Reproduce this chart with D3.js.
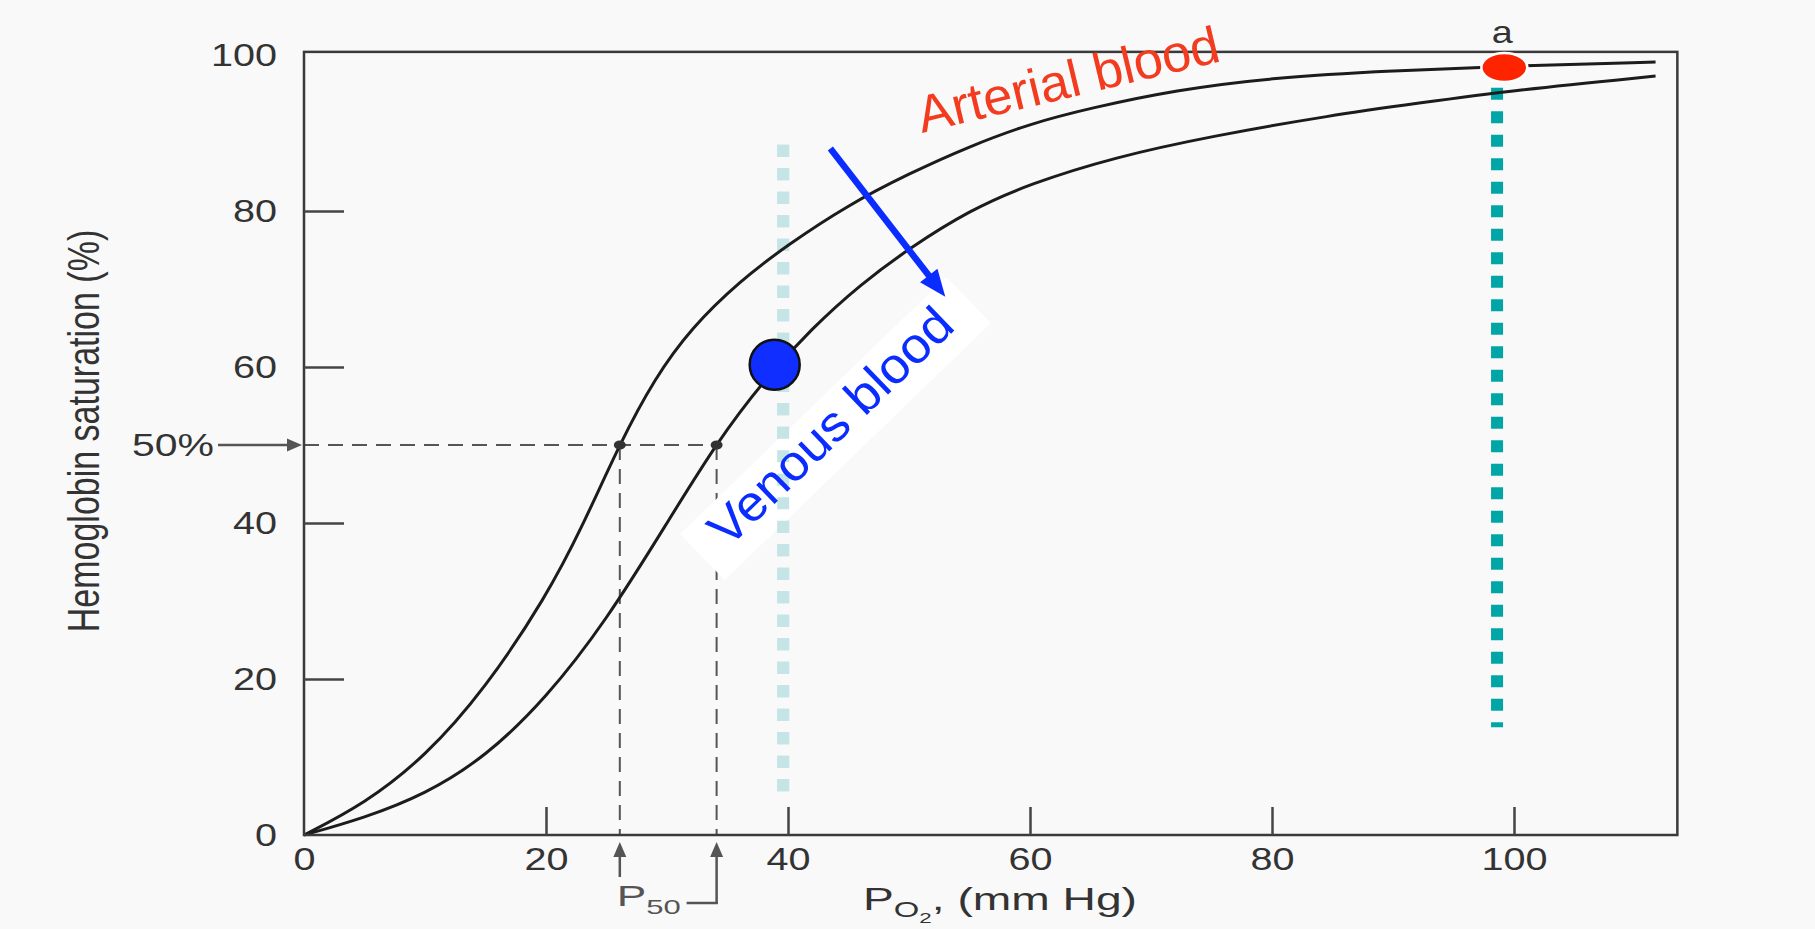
<!DOCTYPE html>
<html>
<head>
<meta charset="utf-8">
<script src="https://cdn.jsdelivr.net/npm/d3@7"></script>
<style>
  body { margin: 0; background: #f9f9f9; }
  svg { display: block; }
</style>
</head>
<body>
<svg id="chart" width="1815" height="929"></svg>
<script>
/**
Values
*/
var po2Ticks = [0, 20, 40, 60, 80, 100];
var satTicks = [0, 20, 40, 60, 80, 100];

// normal (left) dissociation curve
var normalPo2 = [0, 5, 10, 15, 20, 23, 26.1, 29, 32, 36, 40, 45, 50, 55, 60, 65, 72, 80, 90, 100, 111.7];
var normalSat = [0, 4, 10, 18.8, 30.5, 39.5, 50.2, 58.6, 65, 71, 75.7, 80.8, 84.8, 88.3, 91.2, 93.2, 95.5, 97.1, 98.0, 98.6, 99.1];

// right shifted curve
var shiftedPo2 = [0, 5, 10, 15, 20, 25, 30, 34.1, 38, 42, 46, 50, 55, 60, 67, 75, 85, 92, 100, 111.7];
var shiftedSat = [0, 2.2, 5.2, 10, 17.5, 27.5, 40, 50.3, 58.3, 65, 70.6, 75.2, 80.1, 83.5, 86.9, 89.6, 92.3, 93.8, 95.5, 97.3];

var p50Po2 = [26.1, 34.1];
var halfSat = 50;

var venousPo2 = 38.9, venousSat = 60.3;
var arterialPo2 = 99.2, arterialSat = 98.4;

var venousGuidePo2 = 39.6, venousGuideSat = [5.6, 88.5];
var arterialGuidePo2 = 98.6, arterialGuideSat = [13.8, 98.8];

var shiftArrowPo2 = [43.5, 53.0], shiftArrowSat = [88.0, 69.0];

var FONT = "'Liberation Sans', Arial, Helvetica, sans-serif";
var VENOUS_LABEL_POS = "translate(728,549) rotate(-44)";

var svg = d3.select("#chart");

var x = d3.scaleLinear().domain([0, 100]).range([304, 1514]);
var y = d3.scaleLinear().domain([0, 100]).range([835, 55]);
var xEnd = 113.5, yTop = 100.4;

/**
Dotted guides
*/
function guide(po2, sats, color) {
  svg.append("line")
    .attr("x1", x(po2)).attr("x2", x(po2))
    .attr("y1", y(sats[1])).attr("y2", y(sats[0]))
    .style("stroke", color)
    .style("stroke-width", 12)
    .style("stroke-dasharray", "12,11.5");
}

guide(venousGuidePo2, venousGuideSat, "#c4e4e5");
guide(arterialGuidePo2, arterialGuideSat, "#00a6a6");

/**
P50 dashed helpers
*/
var dashed = svg.append("g")
  .style("stroke", "#555")
  .style("stroke-width", 2)
  .style("stroke-dasharray", "15,9")
  .style("fill", "none");

dashed.append("line")
  .attr("x1", x(0)).attr("x2", x(p50Po2[1]))
  .attr("y1", y(halfSat)).attr("y2", y(halfSat));

dashed.selectAll("line.v")
  .data(p50Po2)
  .enter().append("line")
  .attr("class", "v")
  .attr("x1", function(d) { return x(d); })
  .attr("x2", function(d) { return x(d); })
  .attr("y1", y(halfSat))
  .attr("y2", y(0));

/**
White patch behind the venous label (covers the dashed line)
*/
svg.append("g")
  .attr("transform", VENOUS_LABEL_POS)
  .append("rect")
  .attr("x", -24).attr("y", -44)
  .attr("width", 370).attr("height", 64)
  .style("fill", "#ffffff");

// light guide shows through the white patch
guide(venousGuidePo2, venousGuideSat, "#c4e4e5");

/**
Curves
*/
var line = d3.line()
  .x(function(d) { return x(d[0]); })
  .y(function(d) { return y(d[1]); })
  .curve(d3.curveBasis);

svg.selectAll("path.curve")
  .data([d3.zip(normalPo2, normalSat), d3.zip(shiftedPo2, shiftedSat)])
  .enter().append("path")
  .attr("class", "curve")
  .attr("d", line)
  .style("fill", "none")
  .style("stroke", "#1c1c1c")
  .style("stroke-width", 3);

svg.selectAll("ellipse.p50")
  .data(p50Po2)
  .enter().append("ellipse")
  .attr("class", "p50")
  .attr("cx", function(d) { return x(d); })
  .attr("cy", y(halfSat))
  .attr("rx", 6).attr("ry", 4.5)
  .style("fill", "#333");

/**
Frame and axes
*/
svg.append("rect")
  .attr("x", x(0)).attr("y", y(yTop))
  .attr("width", x(xEnd) - x(0))
  .attr("height", y(0) - y(yTop))
  .style("fill", "none")
  .style("stroke", "#3a3a3a")
  .style("stroke-width", 2.5);

var xAxis = d3.axisBottom(x).tickValues(po2Ticks)
  .tickSizeInner(-28).tickSizeOuter(0).tickPadding(12);
var gx = svg.append("g")
  .attr("transform", "translate(0," + y(0) + ")")
  .call(xAxis);
gx.select(".domain").remove();
gx.selectAll(".tick line")
  .attr("stroke", "#444").attr("stroke-width", 2.5)
  .filter(function(d) { return d == 0; }).remove();
gx.selectAll(".tick text")
  .attr("font-family", FONT).attr("font-size", 32).attr("fill", "#333")
  .attr("textLength", function(d) { return String(d).length * 22; })
  .attr("lengthAdjust", "spacingAndGlyphs");

var yAxis = d3.axisLeft(y).tickValues(satTicks)
  .tickSizeInner(-40).tickSizeOuter(0).tickPadding(27);
var gy = svg.append("g")
  .attr("transform", "translate(" + x(0) + ",0)")
  .call(yAxis);
gy.select(".domain").remove();
gy.selectAll(".tick line")
  .attr("stroke", "#444").attr("stroke-width", 2.5)
  .filter(function(d) { return d == 0 || d == 100; }).remove();
gy.selectAll(".tick text")
  .attr("font-family", FONT).attr("font-size", 32).attr("fill", "#333")
  .attr("textLength", function(d) { return String(d).length * 22; })
  .attr("lengthAdjust", "spacingAndGlyphs");

/**
Axis titles
*/
svg.append("g")
  .attr("transform", "translate(84,431) scale(1.3,1) rotate(-90)")
  .append("text")
  .attr("text-anchor", "middle")
  .attr("dy", "0.35em")
  .attr("font-family", FONT).attr("font-size", 34).attr("fill", "#333")
  .text("Hemoglobin saturation (%)");

var xTitle = svg.append("text")
  .attr("x", 863).attr("y", 910)
  .attr("font-family", FONT).attr("font-size", 31).attr("fill", "#333")
  .attr("textLength", 274).attr("lengthAdjust", "spacingAndGlyphs");
xTitle.append("tspan").text("P");
xTitle.append("tspan").attr("font-size", 22).attr("dy", 7).text("O");
xTitle.append("tspan").attr("font-size", 15).attr("dy", 6).text("2");
xTitle.append("tspan").attr("dy", -13).text(", (mm Hg)");

/**
Gray pointer arrows
*/
function grayArrow(x1, y1, x2, y2) {
  var a = Math.atan2(y2 - y1, x2 - x1), len = 15, half = 6.5;
  var bx = x2 - len * Math.cos(a), by = y2 - len * Math.sin(a);
  svg.append("line")
    .attr("x1", x1).attr("y1", y1).attr("x2", bx).attr("y2", by)
    .style("stroke", "#555").style("stroke-width", 2.5);
  svg.append("path")
    .attr("d", "M" + x2 + "," + y2 +
      "L" + (bx + half * Math.sin(a)) + "," + (by - half * Math.cos(a)) +
      "L" + (bx - half * Math.sin(a)) + "," + (by + half * Math.cos(a)) + "Z")
    .style("fill", "#555");
}

svg.append("text")
  .attr("x", 214).attr("y", y(halfSat)).attr("dy", "0.35em")
  .attr("text-anchor", "end")
  .attr("font-family", FONT).attr("font-size", 32).attr("fill", "#333")
  .attr("textLength", 82).attr("lengthAdjust", "spacingAndGlyphs")
  .text("50%");
grayArrow(218, y(halfSat), x(0) - 2, y(halfSat));

grayArrow(x(p50Po2[0]), y(0) + 42, x(p50Po2[0]), y(0) + 7);
grayArrow(x(p50Po2[1]), y(0) + 69, x(p50Po2[1]), y(0) + 7);
svg.append("line")
  .attr("x1", x(p50Po2[1]) - 30).attr("x2", x(p50Po2[1]) + 1.2)
  .attr("y1", y(0) + 68).attr("y2", y(0) + 68)
  .style("stroke", "#555").style("stroke-width", 2.5);

var p50Label = svg.append("text")
  .attr("x", x(p50Po2[0]) - 3).attr("y", 906)
  .attr("font-family", FONT).attr("font-size", 30).attr("fill", "#555")
  .attr("textLength", 64).attr("lengthAdjust", "spacingAndGlyphs");
p50Label.append("tspan").text("P");
p50Label.append("tspan").attr("font-size", 21).attr("dy", 8).text("50");

/**
Coloured annotations
*/
svg.append("text")
  .attr("transform", VENOUS_LABEL_POS)
  .attr("font-family", FONT).attr("font-size", 50).attr("fill", "#0a2cff")
  .attr("textLength", 318).attr("lengthAdjust", "spacingAndGlyphs")
  .text("Venous blood");

svg.append("text")
  .attr("transform", "translate(922,133) rotate(-13.5)")
  .attr("font-family", FONT).attr("font-size", 52).attr("fill", "#f23b1f")
  .attr("textLength", 309).attr("lengthAdjust", "spacingAndGlyphs")
  .text("Arterial blood");

// shift arrow
(function() {
  var x1 = x(shiftArrowPo2[0]), y1 = y(shiftArrowSat[0]);
  var x2 = x(shiftArrowPo2[1]), y2 = y(shiftArrowSat[1]);
  var a = Math.atan2(y2 - y1, x2 - x1), len = 27, half = 11;
  var bx = x2 - len * Math.cos(a), by = y2 - len * Math.sin(a);
  svg.append("line")
    .attr("x1", x1).attr("y1", y1).attr("x2", bx + 2 * Math.cos(a)).attr("y2", by + 2 * Math.sin(a))
    .style("stroke", "#0a2cff").style("stroke-width", 6.5);
  svg.append("path")
    .attr("d", "M" + x2 + "," + y2 +
      "L" + (bx + half * Math.sin(a)) + "," + (by - half * Math.cos(a)) +
      "L" + (bx - half * Math.sin(a)) + "," + (by + half * Math.cos(a)) + "Z")
    .style("fill", "#0a2cff");
})();

svg.append("circle")
  .attr("cx", x(venousPo2)).attr("cy", y(venousSat)).attr("r", 25)
  .style("fill", "#0f2eff")
  .style("stroke", "#111").style("stroke-width", 2.5);

svg.append("ellipse")
  .attr("cx", x(arterialPo2)).attr("cy", y(arterialSat))
  .attr("rx", 23).attr("ry", 14.5)
  .style("fill", "#ff2400")
  .style("stroke", "#ffffff").style("stroke-width", 2.5);

svg.append("text")
  .attr("x", x(arterialPo2) - 2).attr("y", 43)
  .attr("text-anchor", "middle")
  .attr("font-family", FONT).attr("font-size", 32).attr("fill", "#333")
  .attr("textLength", 21).attr("lengthAdjust", "spacingAndGlyphs")
  .text("a");
</script>
</body>
</html>
